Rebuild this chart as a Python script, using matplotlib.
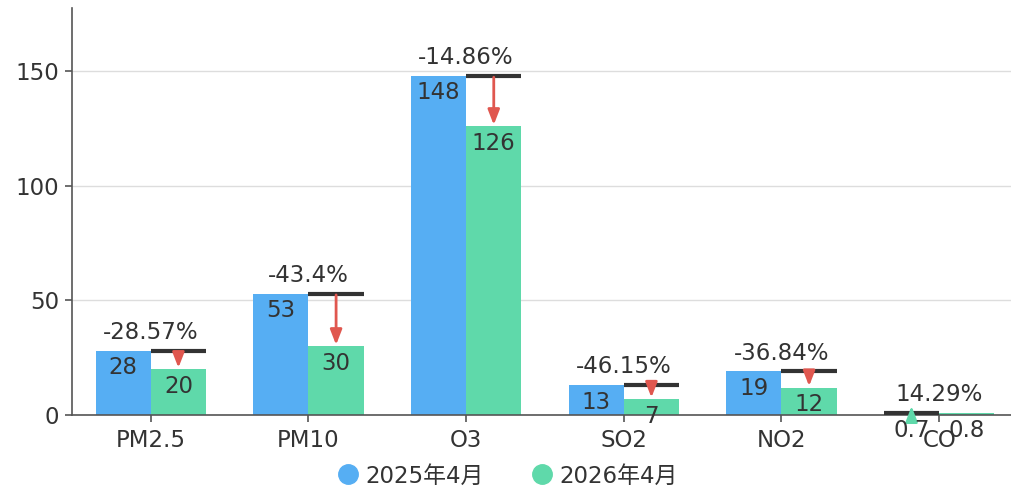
import matplotlib
matplotlib.use('Agg')
import matplotlib.pyplot as plt
from matplotlib.lines import Line2D
import numpy as np

plt.rcParams['font.family'] = ['DejaVu Sans', 'Noto Sans CJK SC']

# 数据
categories = ['PM2.5', 'PM10', 'O3', 'SO2', 'NO2', 'CO']
series_names = ['2025年4月', '2026年4月']
vals_2025 = [28, 53, 148, 13, 19, 0.7]
vals_2026 = [20, 30, 126, 7, 12, 0.8]

c_blue = '#56AEF3'
c_green = '#5FD9AA'
c_red = '#E0574F'
c_text = '#333333'
fs = 16.5

fig = plt.figure(figsize=(10.12, 4.93), dpi=100)
ax = fig.add_axes([72 / 1012, 78 / 493, 946 / 1012, 407 / 493])

x = np.arange(len(categories))
w = 0.35
ax.bar(x - w / 2, vals_2025, w, color=c_blue, zorder=2)
ax.bar(x + w / 2, vals_2026, w, color=c_green, zorder=2)

ax.set_xlim(-0.5, len(categories) - 0.5)
ax.set_ylim(0, max(vals_2025 + vals_2026) * 1.2)
ax.set_yticks([0, 50, 100, 150])
ax.set_xticks(x)
ax.set_xticklabels(categories)
ax.tick_params(axis='both', labelsize=fs, colors='#555555', labelcolor=c_text, length=5, width=1.2)
ax.tick_params(axis='x', pad=5)
ax.tick_params(axis='y', pad=4)
ax.grid(axis='y', color='#dddddd', linewidth=1, zorder=0)
for s in ['top', 'right']:
    ax.spines[s].set_visible(False)
for s in ['left', 'bottom']:
    ax.spines[s].set_color('#555555')
    ax.spines[s].set_linewidth(1.2)
    ax.spines[s].set_zorder(3)

# 数值标签
for i in range(len(categories)):
    ax.annotate(f'{vals_2025[i]:g}', (x[i] - w / 2, vals_2025[i]), xytext=(0, -4),
                textcoords='offset points', ha='center', va='top', fontsize=fs, color=c_text, zorder=5)
    ax.annotate(f'{vals_2026[i]:g}', (x[i] + w / 2, vals_2026[i]), xytext=(0, -4),
                textcoords='offset points', ha='center', va='top', fontsize=fs, color=c_text, zorder=5)

# 变化线、箭头、百分比
for i in range(len(categories)):
    a, b = vals_2025[i], vals_2026[i]
    pct = (b - a) / a * 100
    if b < a:
        xc = x[i] + w / 2
        ax.plot([x[i], x[i] + w], [a, a], color=c_text, lw=3, zorder=4, solid_capstyle='butt')
        ax.annotate('', xy=(xc, b), xytext=(xc, a),
                    arrowprops=dict(arrowstyle='-|>,head_length=0.9,head_width=0.35', color=c_red,
                                    lw=2, shrinkA=1, shrinkB=1), zorder=4)
    else:
        xc = x[i] - w / 2
        ax.plot([x[i] - w, x[i]], [b, b], color=c_text, lw=3, zorder=4, solid_capstyle='butt')
        ax.annotate('', xy=(xc, b + 3), xytext=(xc, a),
                    arrowprops=dict(arrowstyle='-|>,head_length=0.9,head_width=0.35', color=c_green,
                                    lw=2, shrinkA=0, shrinkB=0), zorder=4)
    ax.annotate(f'{round(pct, 2):g}%', (x[i], max(a, b)), xytext=(0, 5),
                textcoords='offset points', ha='center', va='bottom', fontsize=fs, color=c_text, zorder=5)

handles = [Line2D([], [], marker='o', ls='', markersize=14, color=c) for c in (c_blue, c_green)]
fig.legend(handles, series_names, loc='center', bbox_to_anchor=(0.5, 1 - 476 / 493), ncol=2,
           frameon=False, fontsize=fs, labelcolor=c_text, handlelength=1.2, handletextpad=0.2,
           columnspacing=1.9)

fig.savefig('out.png', dpi=100)
